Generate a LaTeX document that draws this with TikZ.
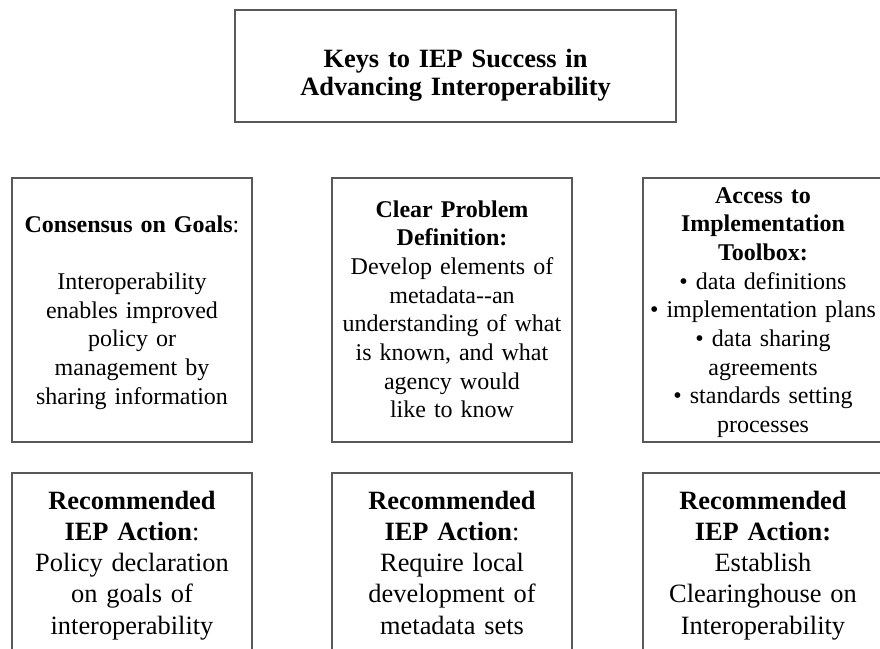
\documentclass[tikz,border=0pt]{standalone}
\usepackage{fontspec}
\setmainfont{Liberation Serif}

\begin{document}
\begin{tikzpicture}[x=1pt, y=-1pt,
    box/.style={draw=black!65, line width=1.2pt, inner sep=0pt, align=center,
      text width=236pt, minimum width=240pt, minimum height=264pt, text height=17pt,
      font=\fontsize{24}{28.7}\selectfont},
    action/.style={box, minimum height=184pt, text height=19pt, text depth=131pt,
      font=\fontsize{26.4}{31.3}\selectfont}]
        \useasboundingbox (0,0) rectangle (880,648);
        % top layer
        \node[box, text width=430pt, minimum width=441pt, minimum height=112pt,
              text height=51pt, text depth=49pt,
              font=\fontsize{26.4}{28}\selectfont\bfseries]
              (0) at (455.5,66) {Keys to IEP Success in\\ Advancing Interoperability};
        % 1st layer
        \node[box, text depth=173pt] (11) at (132,310) {\textbf{Consensus on Goals}:\\[28.7pt]
              Interoperability\\ enables improved\\ policy or\\ management by\\ sharing information};
        \node[box, text depth=203pt] (12) at (452,310) {\textbf{Clear Problem}\\ \textbf{Definition:}\\
              Develop elements of\\ metadata-{}-an\\ understanding of what\\ is known, and what\\ agency would\\ like to know};
        \node[box, text depth=231pt] (13) at (763,310) {\textbf{Access to}\\ \textbf{Implementation}\\ \textbf{Toolbox:}\\
              \textbullet{} data definitions\\ \textbullet{} implementation plans\\ \textbullet{} data sharing\\ agreements\\
              \textbullet{} standards setting\\ processes};
        % 2nd layer
        \node[action] (21) at (132,565) {\textbf{Recommended}\\ \textbf{IEP Action}:\\
              Policy declaration\\ on goals of\\ interoperability};
        \node[action] (22) at (452,565) {\textbf{Recommended}\\ \textbf{IEP Action}:\\
              Require local\\ development of\\ metadata sets};
        \node[action] (23) at (763,565) {\textbf{Recommended}\\ \textbf{IEP Action:}\\
              Establish\\ Clearinghouse on\\ Interoperability};
    \end{tikzpicture}
\end{document}
